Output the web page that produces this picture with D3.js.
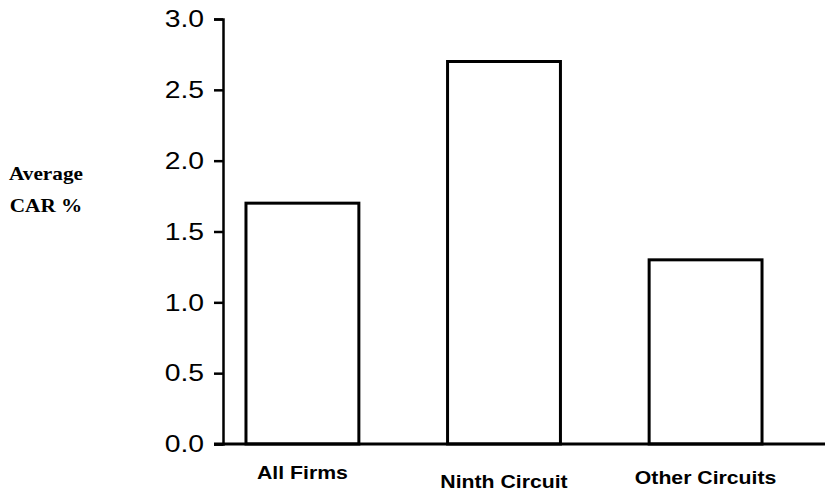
<!DOCTYPE html>
<html lang="en">
<head>
<meta charset="utf-8">
<title>Average CAR %</title>
<script src="https://cdn.jsdelivr.net/npm/d3@7"></script>
<style>
body { margin: 0; background: #fff; }
.tick text { font-family: "Liberation Sans", Arial, sans-serif; font-size: 24px; fill: #000; }
.cat_label { font-family: "Liberation Sans", Arial, sans-serif; font-weight: bold; font-size: 18px; fill: #000; }
.y_label { font-family: "Liberation Serif", serif; font-weight: bold; font-size: 18px; fill: #000; }
</style>
</head>
<body>
<script>
// data
var categories = ["All Firms", "Ninth Circuit", "Other Circuits"];
var carValues = [1.7, 2.7, 1.3];
var yTicks = [0, 0.5, 1.0, 1.5, 2.0, 2.5, 3.0];
var yLabelLines = ["Average", "CAR %"];

var w = 825, h = 493;
var stretch = "scale(1.18,1)"; // the scanned figure is widened horizontally
var labelDy = [0, 9, 5];       // the scanned labels sit at slightly different heights

var svg = d3.select("body").append("svg")
    .attr("width", w)
    .attr("height", h);

var x = d3.scaleBand()
    .domain(categories)
    .range([223, 785])
    .paddingInner(0.44)
    .paddingOuter(0.114);

var y = d3.scaleLinear()
    .domain([0, 3])
    .range([444, 19]);

// bars
svg.selectAll(".bar")
    .data(carValues)
    .enter()
    .append("rect")
    .attr("class", "bar")
    .attr("x", function(d, i) { return x(categories[i]); })
    .attr("y", function(d) { return y(d); })
    .attr("width", x.bandwidth())
    .attr("height", function(d) { return y(0) - y(d); })
    .attr("fill", "#fff")
    .attr("stroke", "#000")
    .attr("stroke-width", 3);

// y axis
var yAxis = d3.axisLeft(y)
    .tickValues(yTicks)
    .tickFormat(d3.format(".1f"))
    .tickSize(9)
    .tickPadding(10);

var yg = svg.append("g")
    .attr("transform", "translate(223,0)")
    .call(yAxis);
yg.select(".domain").attr("stroke-width", 2.5);
yg.selectAll(".tick line").attr("stroke-width", 2.5);
yg.selectAll(".tick text")
    .attr("x", 0)
    .attr("transform", "translate(-19,0) " + stretch);

// x axis line
svg.append("line")
    .attr("x1", 214)
    .attr("x2", w)
    .attr("y1", y(0))
    .attr("y2", y(0))
    .attr("stroke", "#000")
    .attr("stroke-width", 3);

// category labels
svg.selectAll(".cat_label")
    .data(categories)
    .enter()
    .append("text")
    .attr("class", "cat_label")
    .attr("transform", function(d, i) {
        return "translate(" + (x(d) + x.bandwidth() / 2) + "," + (479 + labelDy[i]) + ") " + stretch;
    })
    .attr("text-anchor", "middle")
    .text(function(d) { return d; });

// y label
svg.selectAll(".y_label")
    .data(yLabelLines)
    .enter()
    .append("text")
    .attr("class", "y_label")
    .attr("transform", function(d, i) {
        return "translate(46," + (180 + i * 32) + ") " + stretch;
    })
    .attr("text-anchor", "middle")
    .text(function(d) { return d; });
</script>
</body>
</html>
